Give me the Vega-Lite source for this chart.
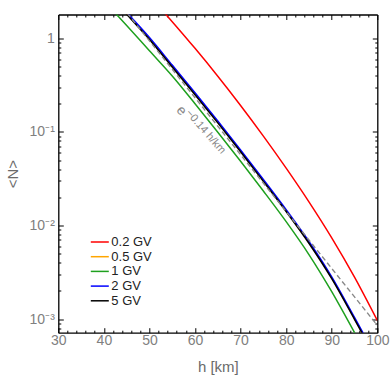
{
  "$schema": "https://vega.github.io/schema/vega-lite/v6.json",
  "width": 319,
  "height": 318.2,
  "autosize": "none",
  "padding": {"left": 58.3, "top": 14.5, "right": 14.7, "bottom": 59.3},
  "config": {
    "view": {"stroke": null},
    "font": "Liberation Sans",
    "axis": {
      "domainColor": "#000000",
      "domainWidth": 1.3,
      "tickColor": "#000000",
      "tickWidth": 1,
      "labelColor": "#808080",
      "titleColor": "#6a6a6a",
      "labelFont": "Liberation Sans",
      "labelFontSize": 14,
      "titleFont": "Liberation Sans",
      "titleFontSize": 15,
      "titleFontWeight": "normal",
      "grid": false,
      "labelOverlap": false,
      "labelFlush": false
    }
  },
  "datasets": {
    "curves": [
      {"series": "0.2 GV", "h": 52, "N": 2.208},
      {"series": "0.2 GV", "h": 55, "N": 1.505},
      {"series": "0.2 GV", "h": 60, "N": 0.7808},
      {"series": "0.2 GV", "h": 65, "N": 0.3937},
      {"series": "0.2 GV", "h": 70, "N": 0.1917},
      {"series": "0.2 GV", "h": 75, "N": 0.09017},
      {"series": "0.2 GV", "h": 80, "N": 0.04099},
      {"series": "0.2 GV", "h": 85, "N": 0.01789},
      {"series": "0.2 GV", "h": 90, "N": 0.007375},
      {"series": "0.2 GV", "h": 95, "N": 0.002803},
      {"series": "0.2 GV", "h": 100, "N": 0.000966},
      {"series": "0.5 GV", "h": 42, "N": 2.677},
      {"series": "0.5 GV", "h": 45, "N": 1.838},
      {"series": "0.5 GV", "h": 50, "N": 0.9898},
      {"series": "0.5 GV", "h": 55, "N": 0.5029},
      {"series": "0.5 GV", "h": 60, "N": 0.2543},
      {"series": "0.5 GV", "h": 65, "N": 0.1269},
      {"series": "0.5 GV", "h": 70, "N": 0.06229},
      {"series": "0.5 GV", "h": 75, "N": 0.0301},
      {"series": "0.5 GV", "h": 80, "N": 0.01433},
      {"series": "0.5 GV", "h": 85, "N": 0.006568},
      {"series": "0.5 GV", "h": 90, "N": 0.002745},
      {"series": "0.5 GV", "h": 95, "N": 0.001011},
      {"series": "0.5 GV", "h": 100, "N": 0.000363},
      {"series": "1 GV", "h": 40, "N": 2.53},
      {"series": "1 GV", "h": 45, "N": 1.368},
      {"series": "1 GV", "h": 50, "N": 0.736},
      {"series": "1 GV", "h": 55, "N": 0.3963},
      {"series": "1 GV", "h": 60, "N": 0.2001},
      {"series": "1 GV", "h": 65, "N": 0.09929},
      {"series": "1 GV", "h": 70, "N": 0.04849},
      {"series": "1 GV", "h": 75, "N": 0.02332},
      {"series": "1 GV", "h": 80, "N": 0.01097},
      {"series": "1 GV", "h": 85, "N": 0.004882},
      {"series": "1 GV", "h": 90, "N": 0.001958},
      {"series": "1 GV", "h": 95, "N": 0.000716},
      {"series": "1 GV", "h": 100, "N": 0.000256},
      {"series": "2 GV", "h": 42, "N": 2.754},
      {"series": "2 GV", "h": 45, "N": 1.891},
      {"series": "2 GV", "h": 50, "N": 1.018},
      {"series": "2 GV", "h": 55, "N": 0.5172},
      {"series": "2 GV", "h": 60, "N": 0.2615},
      {"series": "2 GV", "h": 65, "N": 0.1306},
      {"series": "2 GV", "h": 70, "N": 0.06407},
      {"series": "2 GV", "h": 75, "N": 0.03096},
      {"series": "2 GV", "h": 80, "N": 0.01474},
      {"series": "2 GV", "h": 85, "N": 0.006755},
      {"series": "2 GV", "h": 90, "N": 0.002824},
      {"series": "2 GV", "h": 95, "N": 0.00104},
      {"series": "2 GV", "h": 100, "N": 0.000374},
      {"series": "5 GV", "h": 42, "N": 2.63},
      {"series": "5 GV", "h": 45, "N": 1.806},
      {"series": "5 GV", "h": 50, "N": 0.9723},
      {"series": "5 GV", "h": 55, "N": 0.494},
      {"series": "5 GV", "h": 60, "N": 0.2498},
      {"series": "5 GV", "h": 65, "N": 0.1247},
      {"series": "5 GV", "h": 70, "N": 0.06119},
      {"series": "5 GV", "h": 75, "N": 0.02957},
      {"series": "5 GV", "h": 80, "N": 0.01408},
      {"series": "5 GV", "h": 85, "N": 0.006452},
      {"series": "5 GV", "h": 90, "N": 0.002697},
      {"series": "5 GV", "h": 95, "N": 0.000993},
      {"series": "5 GV", "h": 100, "N": 0.000357}
    ],
    "dashed": [
      {"h": 44, "N": 2.175},
      {"h": 50, "N": 0.9392},
      {"h": 60, "N": 0.2316},
      {"h": 70, "N": 0.05712},
      {"h": 80, "N": 0.01408},
      {"h": 90, "N": 0.003473},
      {"h": 100, "N": 0.000856}
    ]
  },
  "layer": [
    {
      "data": {"name": "curves"},
      "mark": {"type": "line", "clip": true, "interpolate": "monotone"},
      "encoding": {
        "x": {
          "field": "h", "type": "quantitative",
          "scale": {"domain": [30, 100], "nice": false, "zero": false},
          "axis": {
            "orient": "bottom",
            "values": [30,32,34,36,38,40,42,44,46,48,50,52,54,56,58,60,62,64,66,68,70,72,74,76,78,80,82,84,86,88,90,92,94,96,98,100],
            "tickSize": {"condition": {"test": "datum.value % 10 === 0", "value": -5}, "value": -2.5},
            "labelExpr": "datum.value % 10 === 0 ? datum.label : ''",
            "labelPadding": 6,
            "title": "h [km]",
            "titlePadding": 9
          }
        },
        "y": {
          "field": "N", "type": "quantitative",
          "scale": {"type": "log", "domain": [0.000714, 1.796], "nice": false},
          "axis": {
            "orient": "left",
            "values": [0.0008,0.0009,0.001,0.002,0.003,0.004,0.005,0.006,0.007,0.008,0.009,0.01,0.02,0.03,0.04,0.05,0.06,0.07,0.08,0.09,0.1,0.2,0.3,0.4,0.5,0.6,0.7,0.8,0.9,1],
            "tickSize": {"condition": {"test": "indexof([1, 0.1, 0.01, 0.001], datum.value) >= 0", "value": -5}, "value": -2.5},
            "labelExpr": "datum.value === 1 ? '1' : datum.value === 0.1 ? '10⁻¹' : datum.value === 0.01 ? '10⁻²' : datum.value === 0.001 ? '10⁻³' : ''",
            "labelPadding": 9,
            "title": "<N>",
            "titlePadding": 9
          }
        },
        "color": {
          "field": "series", "type": "nominal",
          "scale": {"domain": ["0.2 GV", "0.5 GV", "1 GV", "2 GV", "5 GV"], "range": ["#ff0000", "#ffa500", "#1ea01e", "#0000ff", "#000000"]},
          "legend": {
            "orient": "none", "legendX": 35, "legendY": 221, "title": null,
            "symbolType": "M-1.8,0L1.8,0", "symbolSize": 100, "symbolStrokeWidth": 1.6,
            "labelFontSize": 13, "labelColor": "#222222", "labelFont": "Liberation Sans",
            "labelOffset": 5, "rowPadding": 0.7
          }
        },
        "strokeWidth": {
          "field": "series", "type": "nominal",
          "scale": {"domain": ["0.2 GV", "0.5 GV", "1 GV", "2 GV", "5 GV"], "range": [1.5, 1.5, 1.5, 2.2, 2.2]},
          "legend": null
        }
      }
    },
    {
      "data": {"name": "dashed"},
      "mark": {"type": "line", "clip": true, "color": "#888888", "strokeDash": [5, 3], "strokeWidth": 1.4},
      "encoding": {
        "x": {
          "field": "h", "type": "quantitative",
          "scale": {"domain": [30, 100], "nice": false, "zero": false},
          "axis": {
            "orient": "top",
            "values": [30,32,34,36,38,40,42,44,46,48,50,52,54,56,58,60,62,64,66,68,70,72,74,76,78,80,82,84,86,88,90,92,94,96,98,100],
            "tickSize": {"condition": {"test": "datum.value % 10 === 0", "value": -5}, "value": -2.5},
            "labels": false,
            "title": null
          }
        },
        "y": {
          "field": "N", "type": "quantitative",
          "scale": {"type": "log", "domain": [0.000714, 1.796], "nice": false},
          "axis": {
            "orient": "right",
            "values": [0.0008,0.0009,0.001,0.002,0.003,0.004,0.005,0.006,0.007,0.008,0.009,0.01,0.02,0.03,0.04,0.05,0.06,0.07,0.08,0.09,0.1,0.2,0.3,0.4,0.5,0.6,0.7,0.8,0.9,1],
            "tickSize": {"condition": {"test": "indexof([1, 0.1, 0.01, 0.001], datum.value) >= 0", "value": -5}, "value": -2.5},
            "labels": false,
            "title": null
          }
        }
      }
    },
    {
      "data": {"values": [{"h": 57.0, "N": 0.168, "t": "e"}]},
      "mark": {"type": "text", "fontSize": 14, "color": "#888888", "angle": 49, "align": "center", "baseline": "middle", "font": "Liberation Sans"},
      "encoding": {
        "x": {"field": "h", "type": "quantitative", "scale": {"domain": [30, 100], "nice": false, "zero": false}, "axis": null},
        "y": {"field": "N", "type": "quantitative", "scale": {"type": "log", "domain": [0.000714, 1.796], "nice": false}, "axis": null},
        "text": {"field": "t"}
      }
    },
    {
      "data": {"values": [{"h": 62.3, "N": 0.1, "t": "−0.14 h/km"}]},
      "mark": {"type": "text", "fontSize": 11, "color": "#888888", "angle": 49, "align": "center", "baseline": "middle", "font": "Liberation Sans"},
      "encoding": {
        "x": {"field": "h", "type": "quantitative", "scale": {"domain": [30, 100], "nice": false, "zero": false}, "axis": null},
        "y": {"field": "N", "type": "quantitative", "scale": {"type": "log", "domain": [0.000714, 1.796], "nice": false}, "axis": null},
        "text": {"field": "t"}
      }
    }
  ],
  "resolve": {"axis": {"x": "independent", "y": "independent"}}
}
